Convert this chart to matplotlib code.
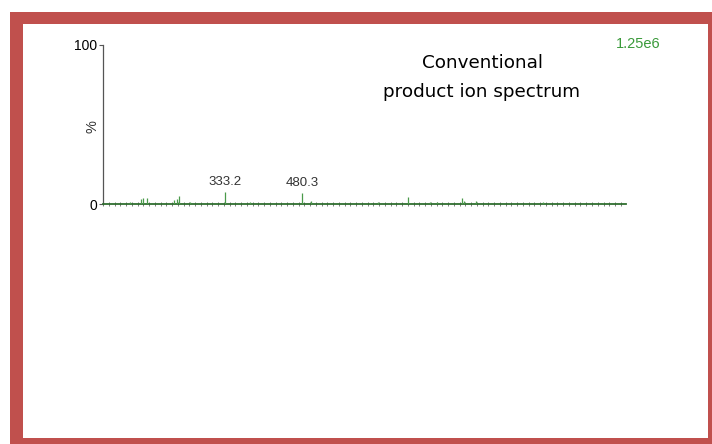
import matplotlib.pyplot as plt
from matplotlib.patches import Rectangle

# peaks (m/z, relative intensity %)
mz = [152, 172, 177, 185, 236, 241, 246, 266, 333.2, 381, 480.3, 497,
      611, 626, 684, 725, 739, 786, 790, 813, 941, 1056]
intensity = [1.0, 3.0, 4.0, 3.5, 2.5, 3.0, 5.0, 1.0, 7.8, 1.2, 6.7, 2.0,
             0.8, 1.0, 4.6, 1.0, 1.0, 3.8, 2.0, 2.0, 1.0, 0.8]
labelled = ["333.2", "480.3"]
mz_range = [100, 1100]
y_ticks = [0, 100]
max_count = "1.25e6"

W, H = 712, 444


def fx(px):
    return px / W


def fy(py):
    return 1 - py / H


fig = plt.figure(figsize=(W / 100, H / 100), dpi=100)
fig.patch.set_facecolor("white")

# red frame around the slide area
fig.patches.append(Rectangle((fx(10), 0), 1, fy(12), transform=fig.transFigure,
                             facecolor="#c0504d", edgecolor="none", zorder=-2))
fig.patches.append(Rectangle((fx(23), fy(438)), fx(708) - fx(23), fy(24) - fy(438),
                             transform=fig.transFigure, facecolor="white",
                             edgecolor="none", zorder=-1))

ax = fig.add_axes([fx(103), fy(204), fx(626) - fx(103), fy(45) - fy(204)])
ax.set_facecolor("none")
ax.set_xlim(mz_range)
ax.set_ylim(0, 100)

ax.plot(mz_range, [0, 0], color="#2f6e2f", lw=1.3, zorder=3, clip_on=False)
ax.vlines(mz, 0, intensity, color="#4a9a4a", lw=0.9, zorder=3)

for m, v in zip(mz, intensity):
    if str(m) in labelled:
        ax.text(m, v + 2.5, str(m), ha="center", va="bottom",
                fontsize=9.5, family="Liberation Sans", color="#333333")

for s in ["top", "right", "bottom"]:
    ax.spines[s].set_visible(False)
ax.spines["left"].set_color("#555555")
ax.spines["left"].set_linewidth(0.9)

ax.set_yticks(y_ticks)
ax.set_yticklabels([str(t) for t in y_ticks], family="Liberation Sans", fontsize=10)
ax.tick_params(axis="y", length=3, width=0.8, color="#555555", pad=1)
ax.set_xticks(range(mz_range[0], mz_range[1] + 1, 11))
ax.set_xticklabels([])
ax.tick_params(axis="x", direction="inout", length=3, width=0.6, color="#666666")

fig.text(fx(92), fy(127), "%", rotation=90, ha="center", va="center",
         family="Liberation Sans", fontsize=10.5, color="#333333")
fig.text(fx(638), fy(44), max_count, ha="center", va="center",
         family="Liberation Sans", fontsize=10.5, color="#3a9a3a")
fig.text(fx(482), fy(63), "Conventional", ha="center", va="center", fontsize=13.2)
fig.text(fx(482), fy(92), "product ion spectrum", ha="center", va="center",
         fontsize=13.2)

fig.savefig("out.png", dpi=100)
